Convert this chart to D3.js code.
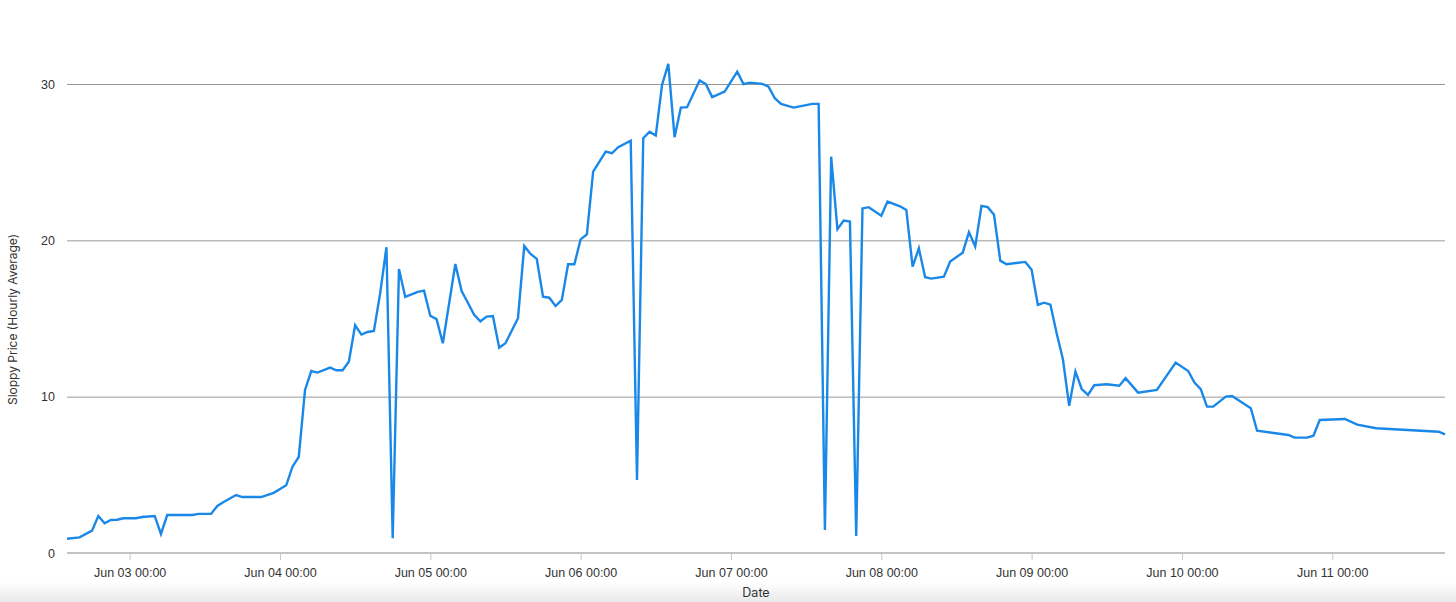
<!DOCTYPE html>
<html><head><meta charset="utf-8">
<script src="https://cdn.jsdelivr.net/npm/d3@7"></script>
<style>
html,body{margin:0;padding:0;background:#fff;}
svg{display:block;font-family:Inter,"Noto Sans",sans-serif;}
</style></head>
<body><svg id="c" width="1456" height="602"></svg>
<script>
// hour offsets from Jun 03 00:00
const hours = [-10,-8,-6,-5,-4,-3,-2,-1,1,2,4,5,6,10,11,13,14,15,17,18,21,23,25,26,27,28,29,30,32,33,34,35,36,37,38,39,40,41,42,43,44,46,47,48,49,50,52,53,54,55,56,57,58,59,60,62,63,64,65,66,67,68,69,70,71,72,73,74,76,77,78,80,81,82,83,84,85,86,87,88,89,91,92,93,95,97,98,99,101,102,103,104,106,109,110,111,112,113,114,115,116,117,118,120,121,123,124,125,126,127,128,130,131,133,134,135,136,137,138,139,140,143,144,145,146,147,148,149,150,151,152,153,154,156,158,159,161,164,167,169,170,171,172,173,175,176,179,180,185,186,188,189,190,194,196,199,209,210];
const prices = [0.91,1.00,1.43,2.37,1.90,2.11,2.13,2.22,2.22,2.30,2.37,1.22,2.43,2.43,2.50,2.50,3.01,3.26,3.71,3.58,3.58,3.85,4.33,5.52,6.14,10.43,11.64,11.54,11.86,11.69,11.69,12.24,14.57,13.97,14.14,14.20,16.62,19.56,0.94,18.17,16.38,16.70,16.78,15.18,14.96,13.42,18.49,16.76,16.01,15.23,14.82,15.12,15.16,13.13,13.42,15.02,19.64,19.13,18.81,16.40,16.33,15.80,16.19,18.47,18.47,20.06,20.38,24.40,25.67,25.57,25.96,26.38,4.67,26.53,26.95,26.70,29.94,31.29,26.60,28.49,28.52,30.22,29.99,29.16,29.51,30.79,29.99,30.09,30.01,29.83,29.09,28.73,28.49,28.73,28.73,1.47,25.35,20.71,21.26,21.20,1.09,22.04,22.12,21.58,22.48,22.18,21.94,18.32,19.49,17.64,17.55,17.68,18.64,19.21,20.52,19.60,22.20,22.12,21.63,18.70,18.47,18.62,18.11,15.87,16.01,15.89,14.06,12.39,9.41,11.60,10.49,10.11,10.73,10.79,10.70,11.18,10.26,10.43,12.18,11.64,10.90,10.48,9.36,9.36,10.00,10.04,9.26,7.82,7.55,7.38,7.38,7.50,8.51,8.57,8.21,7.98,7.76,7.59];
const yTicks = [0,10,20,30];
const yTitle = "Sloppy Price (Hourly Average)";
const xTitle = "Date";

const base = new Date(2024,5,3,0,0,0);
const data = hours.map((h,i)=>({t:d3.timeHour.offset(base,h), v:prices[i]}));

const svg = d3.select("#c");
const L=67, R=1445, T=84, B=553;

// bottom shade
const defs = svg.append("defs");
const g = defs.append("linearGradient").attr("id","shade").attr("x1",0).attr("y1",0).attr("x2",0).attr("y2",1);
g.append("stop").attr("offset","0").attr("stop-color","#fff");
g.append("stop").attr("offset","1").attr("stop-color","#e9e9e9");
svg.append("rect").attr("x",0).attr("y",582).attr("width",1456).attr("height",20).attr("fill","url(#shade)");

const x = d3.scaleTime().domain(d3.extent(data,d=>d.t)).range([L,R]);
const y = d3.scaleLinear().domain([0,30]).range([B,T]);

// grid
const yAxis = svg.append("g").attr("transform",`translate(${L},0)`)
  .call(d3.axisLeft(y).tickValues(yTicks).tickSize(-(R-L)).tickPadding(12).tickFormat(d3.format("d")));
yAxis.select(".domain").remove();
yAxis.selectAll(".tick line").attr("stroke","#9a9a9a").attr("stroke-width",1)
  .filter(d=>d===0).remove();
yAxis.selectAll(".tick text").attr("fill","#333").style("font-size","12.5px");

const xAxis = svg.append("g").attr("transform",`translate(0,${B})`)
  .call(d3.axisBottom(x).ticks(d3.timeDay.every(1)).tickSize(7).tickPadding(8).tickFormat(d3.timeFormat("%b %d %H:%M")));
xAxis.select(".domain").attr("stroke","#c4c4c4").attr("stroke-width",2).attr("d",`M${L},0H${R}`);
xAxis.selectAll(".tick line").attr("stroke","#c4c4c4").attr("stroke-width",1);
xAxis.selectAll(".tick text").attr("fill","#333").style("font-size","12.5px");

// line
svg.append("path").datum(data)
  .attr("fill","none").attr("stroke","#1a88e8").attr("stroke-width",2.4)
  .attr("stroke-linejoin","miter").attr("stroke-miterlimit",4)
  .attr("d", d3.line().x(d=>x(d.t)).y(d=>y(d.v)));

// titles
svg.append("text").attr("transform",`translate(17,${(T+B)/2+1}) rotate(-90)`)
  .attr("text-anchor","middle").attr("fill","#333").style("font-size","12px").text(yTitle);
svg.append("text").attr("x",756).attr("y",597).attr("text-anchor","middle")
  .attr("fill","#333").style("font-size","12.5px").text(xTitle);
</script></body></html>
